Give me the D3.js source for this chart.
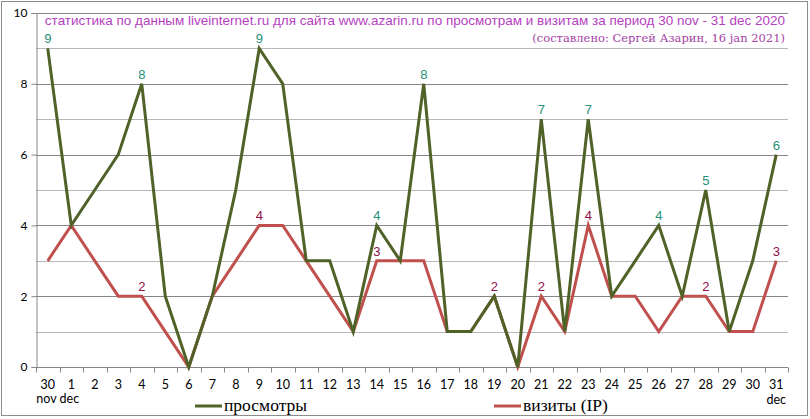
<!DOCTYPE html>
<html><head><meta charset="utf-8">
<script src="https://cdn.jsdelivr.net/npm/d3@7/dist/d3.min.js"></script>
<style>body{margin:0;background:#fff}</style>
</head><body><svg id="c" width="810" height="419"></svg>
<script>
const days = ["30","1","2","3","4","5","6","7","8","9","10","11","12","13","14","15","16","17","18","19","20","21","22","23","24","25","26","27","28","29","30","31"];
const views = [9,4,5,6,8,2,0,2,5,9,8,3,3,1,4,3,8,1,1,2,0,7,1,7,2,3,4,2,5,1,3,6];
const visits = [3,4,3,2,2,1,0,2,3,4,4,3,2,1,3,3,3,1,1,2,0,2,1,4,2,2,1,2,2,1,1,3];
const viewsLabelIdx = [0,4,9,14,16,21,23,26,28,31];
const visitsLabelIdx = [4,9,14,19,21,23,28,31];
const yTicks = [0,2,4,6,8,10];
const titleLine1 = "статистика по данным liveinternet.ru для сайта www.azarin.ru по просмотрам и визитам за период 30 nov - 31 dec 2020";
const titleLine2 = "(составлено: Сергей Азарин, 16 jan 2021)";
const seriesNames = ["просмотры","визиты (IP)"];

const svg = d3.select("#c");
const L=36, R=788, T=13, B=367;
const idx = d3.range(days.length);
const x = d3.scaleBand().domain(idx).range([L,R]);
const cx = i => x(i)+x.bandwidth()/2;
const y = d3.scaleLinear().domain([0,10]).range([B,T]);

svg.append("rect").attr("x",1.5).attr("y",1.5).attr("width",806).attr("height",414)
  .attr("fill","none").attr("stroke","#8c8c8c").attr("stroke-width",1);

// grid
const g = svg.append("g");
d3.range(1,11).forEach(v=>{
  g.append("line").attr("x1",L).attr("x2",R).attr("y1",Math.round(y(v))+0.5).attr("y2",Math.round(y(v))+0.5)
   .attr("stroke", v%2===0 ? "#868686" : "#b8b8b8").attr("stroke-width",1);
});

// y axis
const ya = svg.append("g").attr("transform",`translate(${L+0.5},0)`)
  .call(d3.axisLeft(y).tickValues(yTicks).tickSize(5).tickFormat(d3.format("d")));
ya.select(".domain").attr("stroke","#868686");
ya.selectAll(".tick line").attr("stroke","#868686");
ya.selectAll("text").attr("font-family","Lato, 'Open Sans', sans-serif").attr("font-size",12).attr("fill","#000").attr("dx",-1);

// x axis
const xa = svg.append("g").attr("transform",`translate(0,${B+0.5})`);
xa.append("line").attr("x1",L).attr("x2",R).attr("stroke","#868686");
d3.range(days.length+1).forEach(i=>{
  const px = Math.round(i<days.length? x(i): R)+0.5;
  xa.append("line").attr("x1",px).attr("x2",px).attr("y1",0).attr("y2",5).attr("stroke","#868686");
});
xa.selectAll("text.d").data(days).join("text").attr("class","d")
  .attr("x",(d,i)=>cx(i)).attr("y",21).attr("text-anchor","middle")
  .attr("font-family","Lato, 'Open Sans', sans-serif").attr("font-size",12.5).attr("fill","#000").text(d=>d);
svg.append("text").attr("x",cx(0)+10).attr("y",403).attr("text-anchor","middle")
  .attr("font-family","Lato, 'Open Sans', sans-serif").attr("font-size",12.5).text("nov dec");
svg.append("text").attr("x",cx(31)).attr("y",404).attr("text-anchor","middle")
  .attr("font-family","Lato, 'Open Sans', sans-serif").attr("font-size",12.5).text("dec");

// lines
const line = d3.line().x((d,i)=>cx(i)).y(d=>y(d));
svg.append("path").datum(visits).attr("d",line).attr("fill","none").attr("stroke","#c0504d").attr("stroke-width",3).attr("stroke-linejoin","miter");
svg.append("path").datum(views).attr("d",line).attr("fill","none").attr("stroke","#4f6228").attr("stroke-width",3).attr("stroke-linejoin","miter");

// labels
svg.selectAll("text.vl").data(viewsLabelIdx).join("text").attr("class","vl")
  .attr("x",i=>cx(i)).attr("y",i=>y(views[i])-5).attr("text-anchor","middle")
  .attr("font-family","'Liberation Sans', Arial, sans-serif").attr("font-size",13).attr("fill","#1f8f78").text(i=>views[i]);
svg.selectAll("text.rl").data(visitsLabelIdx).join("text").attr("class","rl")
  .attr("x",i=>cx(i)).attr("y",i=>y(visits[i])-5).attr("text-anchor","middle")
  .attr("font-family","'Liberation Sans', Arial, sans-serif").attr("font-size",13).attr("fill","#8e1048").text(i=>visits[i]);

// title
svg.append("text").attr("x",785).attr("y",25).attr("text-anchor","end")
  .attr("font-family","'Liberation Sans', Arial, sans-serif").attr("font-size",13.5).attr("fill","#b53fbf").text(titleLine1);
svg.append("text").attr("x",785).attr("y",42).attr("text-anchor","end")
  .attr("font-family","'DejaVu Serif', serif").attr("font-size",11.5).attr("fill","#a542a5").text(titleLine2);

// legend
const lg = [{c:"#4f6228",x:195},{c:"#c0504d",x:494}];
lg.forEach((d,k)=>{
  svg.append("line").attr("x1",d.x).attr("x2",d.x+27).attr("y1",406).attr("y2",406).attr("stroke",d.c).attr("stroke-width",3);
  svg.append("text").attr("x",d.x+29).attr("y",411).attr("font-family","'Liberation Serif', 'Times New Roman', serif")
    .attr("font-size",17.5).attr("fill","#000").text(seriesNames[k]);
});
</script></body></html>
